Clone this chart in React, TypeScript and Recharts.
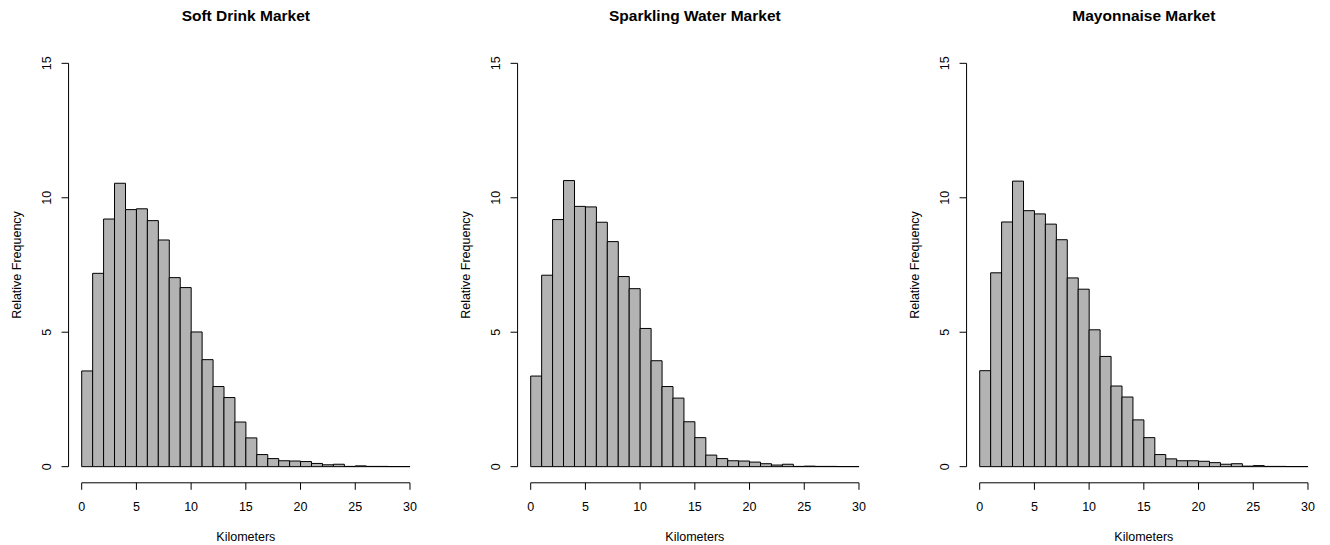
import React from 'react';
import { BarChart, Bar, XAxis, YAxis, ReferenceLine } from 'recharts';

// Bin centres (km), each bin 1 km wide from 0 to 30
const kmBins = [0.5, 1.5, 2.5, 3.5, 4.5, 5.5, 6.5, 7.5, 8.5, 9.5, 10.5, 11.5, 12.5, 13.5, 14.5, 15.5, 16.5, 17.5, 18.5, 19.5, 20.5, 21.5, 22.5, 23.5, 24.5, 25.5, 26.5, 27.5, 28.5, 29.5];

const softDrink = [3.56, 7.19, 9.21, 10.54, 9.56, 9.59, 9.15, 8.43, 7.03, 6.66, 5.01, 3.98, 2.98, 2.57, 1.66, 1.07, 0.45, 0.30, 0.22, 0.21, 0.19, 0.12, 0.07, 0.09, 0.01, 0.03, 0.01, 0.01, 0.005, 0.005];
const sparklingWater = [3.37, 7.12, 9.19, 10.64, 9.68, 9.66, 9.09, 8.37, 7.07, 6.62, 5.14, 3.94, 2.98, 2.55, 1.67, 1.08, 0.43, 0.30, 0.22, 0.21, 0.17, 0.11, 0.06, 0.09, 0.01, 0.02, 0.01, 0.01, 0.005, 0.005];
const mayonnaise = [3.57, 7.21, 9.10, 10.62, 9.52, 9.40, 9.02, 8.44, 7.02, 6.60, 5.09, 4.10, 3.00, 2.59, 1.74, 1.08, 0.45, 0.29, 0.22, 0.22, 0.20, 0.15, 0.09, 0.11, 0.02, 0.04, 0.01, 0.01, 0.005, 0.005];

const panelTitles = ['Soft Drink Market', 'Sparkling Water Market', 'Mayonnaise Market'];
const xTicks = [0, 5, 10, 15, 20, 25, 30];
const yTicks = [0, 5, 10, 15];
const xLabel = 'Kilometers';
const yLabel = 'Relative Frequency';

const FONT = '"Liberation Sans", Arial, Helvetica, sans-serif';
const CHART_W = 432;
const CHART_H = 545;
const PANEL_STEP = 449;
const MARGIN_TOP = 47.2;
const XAXIS_H = 62.2;
const YAXIS_W = 68.57;
const MARGIN_RIGHT = CHART_W - 423.1;
const PLOT_H = CHART_H - MARGIN_TOP - XAXIS_H;
const PLOT_CX = YAXIS_W + (CHART_W - MARGIN_RIGHT - YAXIS_W) / 2;

const XTick = (props: any) => {
  const { x, y, payload } = props;
  return (
    <text x={x} y={y + 20.7} textAnchor="middle" fontFamily={FONT} fontSize={12.5} fill="#000">
      {payload.value}
    </text>
  );
};

const YTick = (props: any) => {
  const { x, y, payload } = props;
  const bx = x - 10.4;
  return (
    <text x={bx} y={y} transform={`rotate(-90, ${bx}, ${y})`} textAnchor="middle" fontFamily={FONT} fontSize={12.5} fill="#000">
      {payload.value}
    </text>
  );
};

const XLabelContent = () => (
  <text x={PLOT_CX} y={541.2} textAnchor="middle" fontFamily={FONT} fontSize={12.5} fill="#000">
    {xLabel}
  </text>
);

const YLabelContent = () => {
  const cy = MARGIN_TOP + PLOT_H / 2;
  const bx = 20.8;
  return (
    <text x={bx} y={cy} transform={`rotate(-90, ${bx}, ${cy})`} textAnchor="middle" fontFamily={FONT} fontSize={12.5} fill="#000">
      {yLabel}
    </text>
  );
};

function Panel({ values, title, left }: { values: number[]; title: string; left: number }) {
  const data = kmBins.map((km, i) => ({ km, freq: values[i] }));
  return (
    <div style={{ position: 'absolute', left, top: 0, width: CHART_W, height: CHART_H }}>
      <div
        style={{
          position: 'absolute',
          left: PLOT_CX - 200,
          width: 400,
          top: 7.1,
          lineHeight: '18px',
          textAlign: 'center',
          fontFamily: FONT,
          fontWeight: 'bold',
          fontSize: 15.5,
          color: '#000',
          whiteSpace: 'nowrap',
        }}
      >
        {title}
      </div>
      <BarChart
        width={CHART_W}
        height={CHART_H}
        data={data}
        margin={{ top: MARGIN_TOP, right: MARGIN_RIGHT, bottom: 0, left: 0 }}
        barCategoryGap={0}
        barGap={0}
      >
        <XAxis
          dataKey="km"
          type="number"
          domain={[-1.2, 31.2]}
          ticks={xTicks}
          interval={0}
          height={XAXIS_H}
          axisLine={false}
          tickLine={{ stroke: '#000', strokeWidth: 1 }}
          tickSize={7}
          tickMargin={0}
          tick={<XTick />}
          label={{ content: <XLabelContent /> } as any}
        />
        <YAxis
          type="number"
          domain={[-0.6, 15.6]}
          ticks={yTicks}
          interval={0}
          width={YAXIS_W}
          axisLine={false}
          tickLine={{ stroke: '#000', strokeWidth: 1 }}
          tickSize={7}
          tickMargin={0}
          tick={<YTick />}
          label={{ content: <YLabelContent /> } as any}
        />
        <Bar dataKey="freq" fill="#B3B3B3" stroke="#000" strokeWidth={1} isAnimationActive={false} />
        <ReferenceLine
          segment={[{ x: 0, y: -0.6 }, { x: 30, y: -0.6 }]}
          stroke="#000"
          strokeWidth={1}
          ifOverflow="visible"
        />
        <ReferenceLine
          segment={[{ x: -1.2, y: 0 }, { x: -1.2, y: 15 }]}
          stroke="#000"
          strokeWidth={1}
          ifOverflow="visible"
        />
      </BarChart>
    </div>
  );
}

export default function App() {
  const series = [softDrink, sparklingWater, mayonnaise];
  return (
    <div style={{ position: 'absolute', left: 0, top: 0, width: 1330, height: 545, background: '#fff', overflow: 'hidden' }}>
      {series.map((vals, i) => (
        <Panel key={panelTitles[i]} values={vals} title={panelTitles[i]} left={i * PANEL_STEP} />
      ))}
    </div>
  );
}
